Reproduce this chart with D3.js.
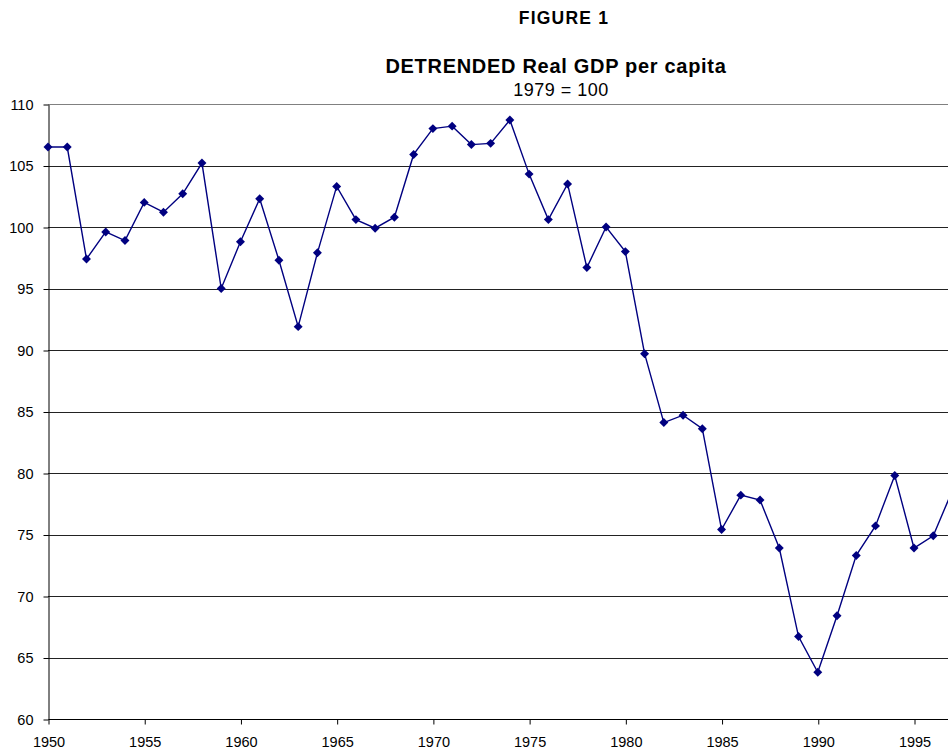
<!DOCTYPE html>
<html>
<head>
<meta charset="utf-8">
<script src="https://cdnjs.cloudflare.com/ajax/libs/d3/7.8.5/d3.min.js"></script>
<style>
  body { margin: 0; background: #fff; }
  svg { display: block; font-family: "Liberation Sans", Arial, sans-serif; }
</style>
</head>
<body>
<script>
// Chart data
var years = [1950, 1951, 1952, 1953, 1954, 1955, 1956, 1957, 1958, 1959,
             1960, 1961, 1962, 1963, 1964, 1965, 1966, 1967, 1968, 1969,
             1970, 1971, 1972, 1973, 1974, 1975, 1976, 1977, 1978, 1979,
             1980, 1981, 1982, 1983, 1984, 1985, 1986, 1987, 1988, 1989,
             1990, 1991, 1992, 1993, 1994, 1995, 1996, 1997];
var gdp = [106.5, 106.5, 97.4, 99.6, 98.9, 102.0, 101.2, 102.7, 105.2, 95.0,
           98.8, 102.3, 97.3, 91.9, 97.9, 103.3, 100.6, 99.9, 100.8, 105.9,
           108.0, 108.2, 106.7, 106.8, 108.7, 104.3, 100.6, 103.5, 96.7, 100.0,
           98.0, 89.7, 84.1, 84.7, 83.6, 75.4, 78.2, 77.8, 73.9, 66.7,
           63.8, 68.4, 73.3, 75.7, 79.8, 73.9, 74.9, 78.6];
var yTicks = [60, 65, 70, 75, 80, 85, 90, 95, 100, 105, 110];
var xTicks = [1950, 1955, 1960, 1965, 1970, 1975, 1980, 1985, 1990, 1995];

var width = 948,
    height = 752;

var svg = d3.select("body").append("svg")
    .attr("width", width)
    .attr("height", height);

// Scales: plot area runs past the right edge of the picture
var x = d3.scaleLinear()
    .domain([1950, 1995])
    .range([48, 914]);

var y = d3.scaleLinear()
    .domain([60, 110])
    .range([719, 104]);

// Titles
svg.append("text")
    .attr("x", 564).attr("y", 24)
    .attr("text-anchor", "middle")
    .attr("font-size", "17.5px")
    .attr("font-weight", "bold")
    .attr("letter-spacing", "1.2px")
    .text("FIGURE 1");

svg.append("text")
    .attr("x", 556).attr("y", 73)
    .attr("text-anchor", "middle")
    .attr("font-size", "20px")
    .attr("font-weight", "bold")
    .attr("letter-spacing", "0.7px")
    .text("DETRENDED Real GDP per capita");

svg.append("text")
    .attr("x", 561).attr("y", 96)
    .attr("text-anchor", "middle")
    .attr("font-size", "18px")
    .attr("letter-spacing", "0.5px")
    .text("1979 = 100");

// Horizontal gridlines
svg.append("g")
    .selectAll("line")
    .data(yTicks.slice(1))
    .enter()
    .append("line")
    .attr("x1", x(1950))
    .attr("x2", width)
    .attr("y1", d => Math.round(y(d)) + 0.5)
    .attr("y2", d => Math.round(y(d)) + 0.5)
    .attr("stroke", d => d == 110 ? "#808080" : "#222")
    .attr("stroke-width", 1.2);

// Y axis
var yAxis = svg.append("g")
    .attr("transform", "translate(" + (x(1950) + 0.5) + ",0.5)")
    .call(d3.axisLeft(y).tickValues(yTicks).tickSize(5).tickSizeOuter(0).tickPadding(10));
yAxis.selectAll("text").attr("font-size", "14.5px").attr("fill", "#000").attr("font-family", "Liberation Sans, Arial, sans-serif");
yAxis.selectAll("line, path").attr("stroke", "#000");

// X axis
var xAxis = svg.append("g")
    .attr("transform", "translate(0.5," + (y(60) + 0.5) + ")")
    .call(d3.axisBottom(x).tickValues(xTicks).tickFormat(d3.format("d")).tickSize(5).tickSizeOuter(0).tickPadding(12));
xAxis.select(".domain").attr("d", "M" + x(1950) + ",0H" + width);
xAxis.selectAll("text").attr("font-size", "14.5px").attr("fill", "#000").attr("font-family", "Liberation Sans, Arial, sans-serif");
xAxis.selectAll("line, path").attr("stroke", "#000");

// Data line
var line = d3.line()
    .x((d, i) => x(years[i]))
    .y(d => y(d));

svg.append("path")
    .datum(gdp)
    .attr("fill", "none")
    .attr("stroke", "#000080")
    .attr("stroke-width", 1.4)
    .attr("d", line);

// Diamond markers
svg.append("g")
    .selectAll("path")
    .data(gdp)
    .enter()
    .append("path")
    .attr("d", d3.symbol(d3.symbolSquare, 40))
    .attr("transform", (d, i) => "translate(" + x(years[i]) + "," + y(d) + ") rotate(45)")
    .attr("fill", "#000080");
</script>
</body>
</html>
